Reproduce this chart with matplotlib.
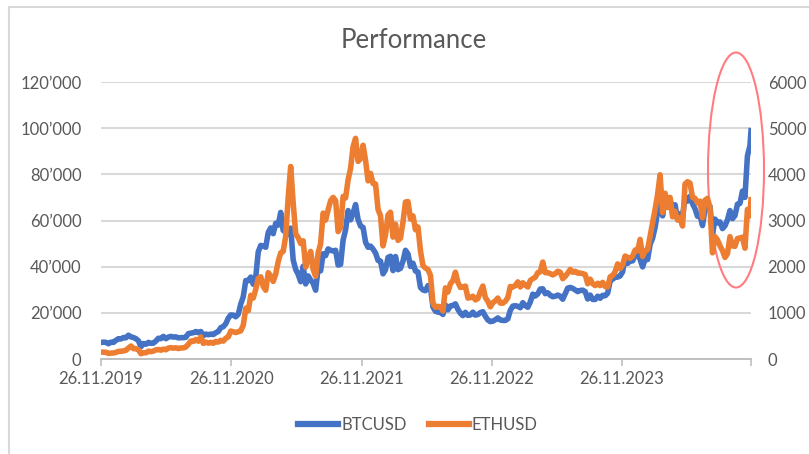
#!/usr/bin/env python3

import pandas as pd
import matplotlib
matplotlib.use("Agg")
import matplotlib.pyplot as plt
from matplotlib.patches import Ellipse, Rectangle

plt.rcParams['font.family'] = ['Lato', 'DejaVu Sans']

# weekly closes (Tuesdays from 26.11.2019), last point 22.11.2024
btc = [7200,
       7300, 7200, 6600, 7300, 7200,
       8100, 8800, 8700, 9300,
       9200, 10300, 9600, 9300,
       8800, 7900, 5300, 6700, 6400,
       7200, 6800, 6900, 7800,
       9000, 8800, 9800, 8800,
       9500, 9800, 9500, 9600, 9150,
       9250, 9250, 9400, 11000,
       11200, 11400, 11900, 11400,
       11900, 10100, 10800, 10500, 10800,
       10600, 11400, 11900, 13600,
       14000, 15300, 17700, 19100,
       19000, 18300, 19400, 23800, 27000,
       34000, 33900, 35500, 32400,
       35500, 46400, 49200, 48900,
       48400, 54800, 56800, 54300, 58800,
       58000, 63500, 55700, 55000,
       54000, 56700, 42900, 38800,
       36700, 33500, 40200, 32500, 36000,
       34200, 32800, 29800, 39500,
       38200, 45600, 44800, 47700, 47100,
       46800, 47100, 40700, 41000,
       51500, 56000, 64300, 60300,
       63200, 66900, 60400, 57600, 57000,
       50600, 48400, 48900, 47600,
       45900, 42700, 42400, 36900,
       38700, 44000, 44500, 38300,
       44400, 38700, 39300, 42400, 47100,
       45500, 40100, 41500, 38100,
       37700, 31000, 29900, 29600, 31800,
       31100, 22500, 20700, 20300,
       20200, 19300, 23400, 21300,
       23000, 23200, 23900, 21500, 19800,
       18800, 20200, 18900, 19100,
       20300, 19000, 19300, 20100,
       20500, 18500, 16900, 16200, 16400,
       17000, 17800, 16900, 16700,
       16700, 17400, 21100, 22900, 23100,
       22800, 22200, 24400, 23100,
       22400, 24700, 28100, 27300,
       28200, 30300, 30400, 28300,
       28700, 27600, 27000, 27200, 27700,
       27200, 25900, 28300, 30700,
       31000, 30600, 29900, 29200,
       29700, 29800, 29200, 26000, 27700,
       25800, 25800, 27200, 26300,
       27600, 27400, 28500, 33900, 34600,
       35400, 35500, 36000, 37800,
       44000, 41400, 42600, 42500,
       45000, 46100, 43100, 39900, 43300,
       43100, 49700, 52300, 57000,
       63800, 71500, 62000, 70000,
       66000, 69200, 63800, 66800, 60600,
       62900, 61300, 70200, 68400,
       70500, 67300, 65100, 61800,
       62100, 57800, 65100, 65900, 66200,
       54000, 60600, 59000, 59400,
       56500, 57700, 60300, 64300,
       60800, 62100, 67100, 67400, 72700,
       70000, 88000, 92300, 98900]

eth = [150,
       147, 145, 122, 128, 130,
       143, 165, 168, 175,
       190, 236, 282, 224,
       224, 200, 115, 136, 133,
       170, 158, 172, 197,
       205, 190, 214, 200,
       238, 245, 235, 243, 226,
       240, 240, 260, 318,
       390, 380, 423, 385,
       478, 338, 366, 343, 360,
       341, 380, 368, 404,
       387, 450, 480, 605,
       588, 573, 590, 611, 731,
       1100, 1045, 1380, 1320,
       1510, 1745, 1780, 1570,
       1490, 1870, 1800, 1680, 1840,
       2110, 2300, 2330, 2660,
       3500, 4170, 3380, 2710,
       2630, 2500, 2560, 1990, 2170,
       2330, 1940, 1790, 2300,
       2500, 3160, 3010, 3230, 3430,
       3500, 3430, 2760, 2850,
       3520, 3490, 3880, 4130,
       4600, 4780, 4280, 4340, 4630,
       4300, 3860, 4020, 3800,
       3790, 3240, 3100, 2450,
       2690, 3120, 3180, 2640,
       2920, 2570, 2620, 2970, 3400,
       3410, 3030, 3100, 2800,
       2860, 2340, 2020, 1970, 1940,
       1810, 1210, 1120, 1140,
       1130, 1040, 1540, 1450,
       1630, 1700, 1880, 1660, 1550,
       1560, 1580, 1320, 1330,
       1360, 1280, 1310, 1460,
       1580, 1330, 1250, 1130, 1220,
       1260, 1320, 1210, 1210,
       1250, 1330, 1570, 1560, 1590,
       1670, 1560, 1650, 1600,
       1560, 1700, 1740, 1770,
       1870, 1890, 2100, 1870,
       1870, 1850, 1820, 1850, 1900,
       1880, 1740, 1790, 1860,
       1940, 1880, 1900, 1860,
       1860, 1850, 1830, 1630, 1730,
       1630, 1590, 1640, 1590,
       1660, 1570, 1560, 1780, 1810,
       1890, 2060, 1960, 2040,
       2230, 2200, 2180, 2230,
       2360, 2340, 2590, 2220, 2340,
       2370, 2660, 2940, 3240,
       3560, 3990, 3170, 3590,
       3280, 3500, 3080, 3200, 3010,
       3060, 2880, 3790, 3840,
       3810, 3500, 3480, 3380,
       3420, 3060, 3440, 3480, 3280,
       2300, 2650, 2580, 2450,
       2350, 2200, 2280, 2650,
       2450, 2440, 2610, 2620, 2640,
       2400, 3240, 3100, 3450]

dates = list(pd.date_range("2019-11-26", "2024-11-19", freq="7D")) + [pd.Timestamp("2024-11-22")]

tick_dates = ["2019-11-26", "2020-11-26", "2021-11-26", "2022-11-26", "2023-11-26"]
tick_labels = ["26.11.2019", "26.11.2020", "26.11.2021", "26.11.2022", "26.11.2023"]
left_ticks = [0, 20000, 40000, 60000, 80000, 100000, 120000]
left_labels = ["0", "20\u2019000", "40\u2019000", "60\u2019000", "80\u2019000", "100\u2019000", "120\u2019000"]
right_ticks = [0, 1000, 2000, 3000, 4000, 5000, 6000]

grey = "#595959"
blue = "#4472C4"
orange = "#ED7D31"

fig = plt.figure(figsize=(8.09, 4.54), dpi=100)
ax = fig.add_axes([101/809, 1 - 359/454, 650/809, 277/454])
ax2 = ax.twinx()

ax.plot(dates, btc, color=blue, lw=4.0, solid_joinstyle="round", label="BTCUSD", zorder=3)
ax2.plot(dates, eth, color=orange, lw=4.0, solid_joinstyle="round", label="ETHUSD", zorder=3)

ax.set_ylim(0, 120000)
ax2.set_ylim(0, 6000)
ax.set_xlim(dates[0], dates[-1])
ax.set_yticks(left_ticks)
ax.set_yticklabels(left_labels)
ax2.set_yticks(right_ticks)
ax2.set_yticklabels([str(t) for t in right_ticks])

xt = [pd.Timestamp(d) for d in tick_dates] + [dates[-1]]
ax.set_xticks(xt)
ax.set_xticklabels(tick_labels + [""])

ax.grid(axis="y", color="#D9D9D9", lw=1.5)
ax.set_axisbelow(True)
for a in (ax, ax2):
    for s in ("top", "left", "right"):
        a.spines[s].set_visible(False)
    a.spines["bottom"].set_color("#BFBFBF")
    a.spines["bottom"].set_linewidth(1.2)
ax.tick_params(axis="x", colors="#BFBFBF", labelcolor=grey, labelsize=12, length=5, width=1.2, pad=4)
ax.tick_params(axis="y", length=0, labelcolor=grey, labelsize=12, pad=14)
ax2.tick_params(axis="y", length=0, labelcolor=grey, labelsize=12, pad=12)

fig.text(414/809, 1 - 40/454, "Performance", ha="center", va="center", fontsize=18.5, color=grey)

h1, l1 = ax.get_legend_handles_labels()
h2, l2 = ax2.get_legend_handles_labels()
fig.legend(h1 + h2, l1 + l2, loc="center", bbox_to_anchor=(418/809, 1 - 425/454), ncol=2,
           frameon=False, fontsize=12, labelcolor=grey, handlelength=2.4, handletextpad=0.2,
           columnspacing=1.3)
for line in fig.legends[0].get_lines():
    line.set_linewidth(4.5)

# red ellipse highlighting the last weeks
ax.add_patch(Ellipse(((736 - 101)/650, (359 - 170)/277), 56/650, 235/277, transform=ax.transAxes,
                     fill=False, edgecolor="#FF7C80", lw=1.5, clip_on=False, zorder=5))

# chart area border
fig.patches.append(Rectangle((9/809, -0.1), 1.2, 1.1 - 7/454, transform=fig.transFigure,
                             fill=False, edgecolor="#D9D9D9", lw=1.5))

fig.savefig("out.png", dpi=100)
